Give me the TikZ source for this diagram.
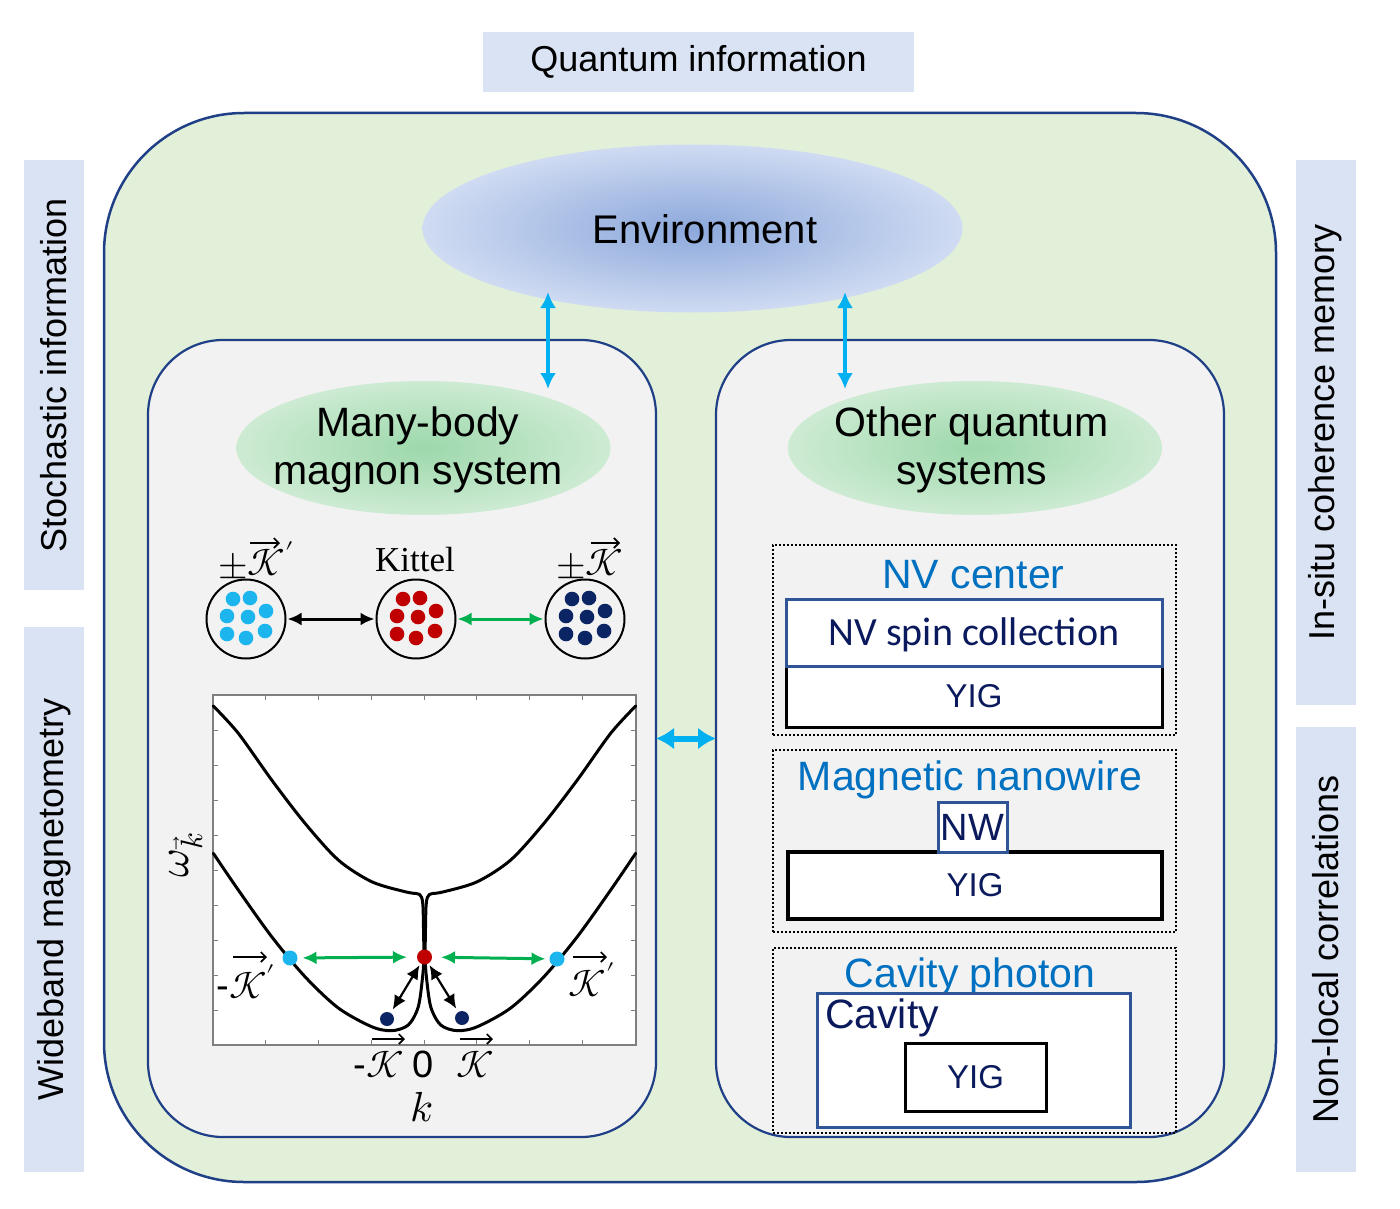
\documentclass[tikz,border=0pt]{standalone}
\usepackage{fontspec}
\usepackage{unicode-math}
\setmainfont{Liberation Sans}
\setmathfont{Latin Modern Math}
\newfontfamily\kitfont{Liberation Serif}
\newfontfamily\calfont{Carlito}
\usetikzlibrary{shapes.geometric,arrows.meta}
\definecolor{bgreen}{HTML}{E2F0D9}
\definecolor{pgray}{HTML}{F2F2F2}
\definecolor{dblue}{HTML}{1F3F86}
\definecolor{lblue}{HTML}{DAE3F3}
\definecolor{stubc}{HTML}{DCE6F4}
\definecolor{cyanA}{HTML}{00B0F0}
\definecolor{greenA}{HTML}{00B050}
\definecolor{redD}{HTML}{C00000}
\definecolor{cyanD}{HTML}{1CB5EE}
\definecolor{navyD}{HTML}{0B2463}
\definecolor{labblue}{HTML}{0070C0}
\definecolor{navyT}{HTML}{0A1A5C}
\definecolor{boxblue}{HTML}{2F5597}
\definecolor{envin}{HTML}{8CA8DB}
\definecolor{envout}{HTML}{CFDBF2}
\definecolor{grin}{HTML}{9DD8AB}
\definecolor{grout}{HTML}{CDEBD3}
\definecolor{framec}{HTML}{7F7F7F}
\pgfdeclarelayer{bg}
\pgfsetlayers{bg,main}
\begin{document}
\begin{tikzpicture}[x=1pt,y=-1pt,
  every node/.style={inner sep=0pt, outer sep=0pt},
  labbox/.style={fill=lblue, font=\fontsize{36}{40}\selectfont},
  stubline/.style={draw=stubc, line width=35pt},
  bigbox/.style={draw=dblue, line width=2.5pt, fill=bgreen, rounded corners=140pt},
  panel/.style={draw=dblue, line width=2.2pt, fill=pgray, rounded corners=75pt, minimum width=508pt, minimum height=797pt},
  envell/.style={ellipse, inner color=envin, outer color=envout},
  grell/.style={ellipse, inner color=grin, outer color=grout, minimum width=374pt, minimum height=134pt},
  elltext/.style={align=center, font=\fontsize{41}{48}\selectfont},
  cyarr/.style={draw=cyanA, line width=3.5pt, arrows={Latex[length=16pt,width=16pt]-Latex[length=16pt,width=16pt]}},
  cyarrbig/.style={draw=cyanA, line width=6pt, arrows={Latex[length=18pt,width=22pt]-Latex[length=18pt,width=22pt]}},
  blkarr/.style={draw=black, line width=3pt, arrows={Latex[length=14pt,width=13pt]-Latex[length=14pt,width=13pt]}},
  grnarr/.style={draw=greenA, line width=3pt, arrows={Latex[length=14pt,width=13pt]-Latex[length=14pt,width=13pt]}},
  vecarr/.style={draw=black, line width=1.7pt, arrows={-Straight Barb[length=5pt,width=10pt]}},
  bigc/.style={circle, draw=black, line width=2pt, minimum size=79pt},
  dotc/.style={circle, minimum size=15pt},
  curve/.style={draw=black, line width=3pt, line cap=round, line join=round},
  tickl/.style={draw=framec, line width=0.9pt},
  mathlab/.style={font=\fontsize{38}{42}\selectfont},
  dotbox/.style={draw=black, dotted, line width=2pt, minimum width=403pt},
  bluelab/.style={text=labblue, font=\fontsize{41}{45}\selectfont, anchor=base},
  bluebox/.style={draw=boxblue, line width=3pt, fill=white},
  blackbox/.style={draw=black, line width=3pt, fill=white},
]
\useasboundingbox[fill=white] (0,0) rectangle (1400,1209);
% outer labels
\node[labbox, minimum width=431pt, minimum height=60pt] (qi) at (698.5,62) {Quantum information};
\node[labbox, rotate=90, minimum width=430pt, minimum height=60pt] (stoch) at (54,375) {Stochastic information};
\node[labbox, rotate=90, minimum width=545pt, minimum height=60pt] (wide) at (54,899.5) {Wideband magnetometry};
\node[labbox, rotate=90, minimum width=545pt, minimum height=60pt] (mem) at (1325.5,432.5) {In-situ coherence memory};
\node[labbox, rotate=90, minimum width=445pt, minimum height=60pt] (nonloc) at (1325.5,949.5) {Non-local correlations};
% main box
\node[bigbox, minimum width=1172pt, minimum height=1069pt] (main) at (690,647.5) {};
\coordinate (qs) at ([xshift=-9.5pt]qi.south);
\begin{pgfonlayer}{bg}
  \draw[stubline, line width=34pt] (qs) -- (qs |- main.north);
  \draw[stubline] (stoch.south) -- (stoch.south -| main.west);
  \draw[stubline] (wide.south) -- (wide.south -| main.west);
  \draw[stubline] (mem.north) -- (mem.north -| main.east);
  \draw[stubline] (nonloc.north) -- (nonloc.north -| main.east);
\end{pgfonlayer}
% environment
\node[envell, minimum width=540pt, minimum height=168pt] (env) at (692.5,228.5) {};
\node[font=\fontsize{40}{44}\selectfont] (envt) at (705,229) {Environment};
% panels
\node[panel] (lp) at (402,738.5) {};
\node[panel] (rp) at (970,738.5) {};
\node[grell] (mb) at (423.5,448) {};
\node[elltext] (mbt) at (418,450) {Many-body\\magnon system};
\node[grell] (oq) at (975,448) {};
\node[elltext] (oqt) at (971.5,450) {Other quantum\\systems};
\coordinate (ea) at (548,292); \coordinate (la) at (548,389);
\coordinate (eb) at (845,292); \coordinate (ra) at (845,389);
\draw[cyarr] (ea) -- (la);
\draw[cyarr] (eb) -- (ra);
\draw[cyarrbig] (lp.east) -- (rp.west);
% magnon clouds
\node[bigc] (c1) at (246,619) {};
\node[bigc] (c2) at (416,619) {};
\node[bigc] (c3) at (585,619) {};
\foreach \dx/\dy in {-13/-20, 4/-21, -19/-3, 2/-2, 20/-8, -19/15, 0/19, 19/12} {
  \fill[cyanD] ([shift={(\dx,\dy)}]c1.center) circle[radius=7.3pt];
  \fill[redD] ([shift={(\dx,\dy)}]c2.center) circle[radius=7.3pt];
  \fill[navyD] ([shift={(\dx,\dy)}]c3.center) circle[radius=7.3pt];
}
\draw[blkarr, shorten <=2pt, shorten >=2pt] (c1) -- (c2);
\draw[grnarr, shorten <=2pt, shorten >=2pt] (c2) -- (c3);
\node[mathlab, anchor=base] (lk1) at (256,575) {$\pm\mathcal{K}'$};
\draw[vecarr] (250,543) -- (280,543);
\node[anchor=base, font={\fontsize{35}{38}\kitfont}] (lkit) at (415,571) {Kittel};
\node[mathlab, anchor=base] (lk3) at (590,575) {$\pm\mathcal{K}$};
\draw[vecarr] (591,543) -- (620,543);
% plot
\node[draw=framec, line width=1.2pt, fill=white, minimum width=423pt, minimum height=350pt] (pb) at (424.5,870) {};
\foreach \i in {1,...,7} {
  \draw[tickl] (213+52.75*\i,695) -- ++(0,5);
  \draw[tickl] (213+52.75*\i,1045) -- ++(0,-5);
}
\foreach \j in {1,...,9} {
  \draw[tickl] (213,695+35*\j) -- ++(5,0);
  \draw[tickl] (636,695+35*\j) -- ++(-5,0);
}
\draw[curve] plot[smooth] coordinates {(213.3,706) (238.3,733.3) (271.7,780) (305,823.3) (338.3,860) (371.7,881.7) (405,891.7) (416.5,893.5)}
  .. controls (421.5,894) and (422.8,897) .. (423.2,912) -- (424,955);
\draw[curve] (425,955) -- (425.8,912) .. controls (426.2,897) and (427.5,894) .. (432.5,893.5)
  plot[smooth] coordinates {(432.5,893.5) (444,891.7) (477.3,881.7) (510.7,860) (544,823.3) (577.3,780) (610.7,733.3) (635.7,706)};
\draw[curve] plot[smooth] coordinates {(213.3,853.3) (238.3,890) (271.7,936.7) (305,976.7) (338.3,1008) (371.7,1026.7) (391.7,1030.7) (408.3,1025) (418.3,1006.7) (422.8,975) (423.8,958)};
\draw[curve] plot[smooth] coordinates {(425.2,958) (426.2,975) (430.7,1006.7) (440.7,1025) (457.3,1030.7) (477.3,1026.7) (510.7,1008) (544,976.7) (577.3,936.7) (610.7,890) (635.7,853.3)};
\node[dotc, fill=cyanD] (pL) at (290,958) {};
\node[dotc, fill=redD] (pK) at (424.5,957) {};
\node[dotc, fill=cyanD] (pR) at (557,959) {};
\node[dotc, fill=navyD, minimum size=14pt] (nL) at (387,1019) {};
\node[dotc, fill=navyD, minimum size=14pt] (nR) at (462,1018) {};
\draw[grnarr, shorten <=5pt, shorten >=10pt] (pL) -- (pK);
\draw[grnarr, shorten <=9pt, shorten >=4pt] (pK) -- (pR);
\draw[blkarr, line width=2.2pt, shorten <=2pt, shorten >=4pt] (pK) -- (nL);
\draw[blkarr, line width=2.2pt, shorten <=2pt, shorten >=4pt] (pK) -- (nR);
\node[mathlab, anchor=base] (lkm) at (246,998) {-$\mathcal{K}'$};
\draw[vecarr] (233,957) -- (267,957);
\node[mathlab, anchor=base] (lkp) at (592,996) {$\mathcal{K}'$};
\draw[vecarr] (573,957) -- (607,957);
\node[mathlab, anchor=base] (bkm) at (379,1077) {-$\mathcal{K}$};
\draw[vecarr] (372,1039) -- (405,1039);
\node[font=\fontsize{38}{40}\selectfont, anchor=base] (b0) at (423,1077) {0};
\node[mathlab, anchor=base] (bkp) at (475,1077) {$\mathcal{K}$};
\draw[vecarr] (460,1039) -- (493,1039);
\node[font=\fontsize{42}{44}\selectfont, anchor=base] (klab) at (422,1121) {$k$};
\node[font=\fontsize{44}{48}\selectfont, rotate=90] (wlab) at (186,855) {$\omega_{\vec{k}}$};
% right panel: NV center
\node[dotbox, minimum height=190pt] (b1) at (974.5,640) {};
\node[bluelab] (t1) at (973.5,588) {NV center};
\node[blackbox, minimum width=376pt, minimum height=61pt, text=navyT, font=\fontsize{33}{36}\selectfont] (y1) at (974,696.5) {YIG};
\node[bluebox, minimum width=376pt, minimum height=67pt] (nvs) at (974,632.5) {};
\node[anchor=base, text=navyT, font={\fontsize{40}{44}\calfont}] (nvst) at (974,645) {NV spin collection};
% magnetic nanowire
\node[dotbox, minimum height=182pt] (b2) at (974.5,841) {};
\node[bluelab] (t2) at (970,790) {Magnetic nanowire};
\node[blackbox, line width=4pt, minimum width=374pt, minimum height=67pt, text=navyT, font=\fontsize{33}{36}\selectfont] (y2) at (975,885.5) {YIG};
\node[bluebox, minimum width=69pt, minimum height=50pt, text=navyT, font=\fontsize{38}{40}\selectfont] (nw) at (972.5,827) {NW};
% cavity photon
\node[dotbox, minimum height=185pt] (b3) at (974.5,1040.5) {};
\node[bluelab] (t3) at (970,987) {Cavity photon};
\node[bluebox, minimum width=313pt, minimum height=134pt] (cav) at (973.5,1060) {};
\node[anchor=base west, text=navyT, font=\fontsize{41}{44}\selectfont] (cavt) at (825,1028) {Cavity};
\node[blackbox, minimum width=141pt, minimum height=68pt, text=navyT, font=\fontsize{33}{36}\selectfont] (y3) at (975.5,1077) {YIG};
\end{tikzpicture}
\end{document}
